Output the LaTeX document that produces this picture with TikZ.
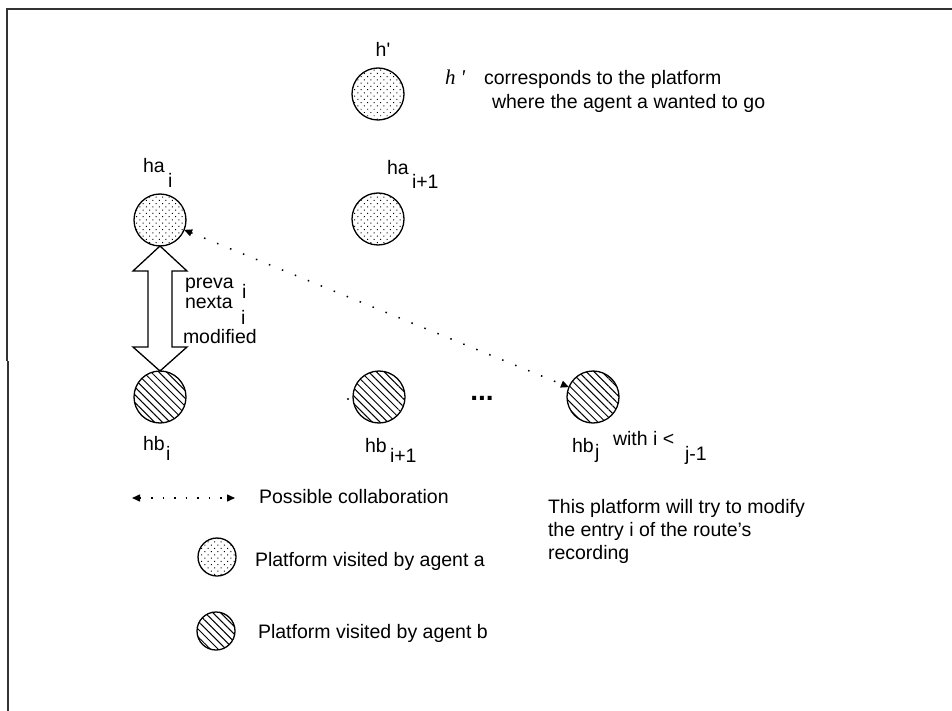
\documentclass[tikz,border=0pt]{standalone}
\usepackage{fontspec}
\setmainfont{Liberation Sans}
\newfontfamily\serifface{Liberation Serif}
\usetikzlibrary{arrows.meta,patterns.meta,calc}
\begin{document}
\begin{tikzpicture}[x=1pt,y=-1pt,
  every node/.style={inner sep=0pt, outer sep=0pt},
  txt/.style={font=\fontsize{19.5}{23}\selectfont, anchor=base west},
  platA/.style={circle, draw, line width=1.3pt, minimum size=52pt,
    pattern={Dots[radius=0.7pt,distance=4.6pt,angle=45]}},
  platB/.style={circle, draw, line width=1.3pt, minimum size=52pt,
    pattern={Lines[angle=-45,distance=5.5pt,line width=1pt]}},
  collab/.style={line width=1.5pt, dash pattern=on 1.5pt off 12.5pt,
    {Triangle[length=8pt,width=7pt]}-{Triangle[length=8pt,width=7pt]}},
  legcollab/.style={line width=1.5pt, dash pattern=on 1.5pt off 10pt,
    {Triangle[length=8pt,width=7pt]}-{Triangle[length=8pt,width=7pt]}},
  frame/.style={line width=1.4pt, draw=black!80},
  hollow/.style={draw, line width=1.3pt, fill=white, line join=miter},
]
\useasboundingbox (0,0) rectangle (952,711);

% page frame
\draw[frame] (952,9) -- (7,9) -- (7,361);
\draw[frame] (8,361) -- (8,711);

% platforms
\node[platA] (hp)   at (378,94)  {};
\node[platA] (hai)  at (160,220) {};
\node[platA] (hai1) at (378,219) {};
\node[platB] (hbi)  at (160,397) {};
\node[platB] (hbi1) at (379,397) {};
\node[platB] (hbj)  at (593,397) {};
\fill (348,399) circle (1.2);
\node[font=\bfseries\fontsize{28}{30}\selectfont] (dots) at (482,398) {...};

% labels of the platforms
\node[txt, anchor=base] (lhp) at (383,57) {h\textquotesingle};
\node[txt] (lhai)  at (143,173) {ha};
\node[txt] (lhaii) at (168,188) {i};
\node[txt] (lhai1) at (387,175) {ha};
\node[txt] (lhai1i) at (412,189) {i+1};
\node[txt] (lhbi)  at (143,450) {hb};
\node[txt] (lhbii) at (166,460) {i};
\node[txt] (lhbi1) at (365,452) {hb};
\node[txt] (lhbi1i) at (390,462) {i+1};
\node[txt] (lhbj)  at (572,452) {hb};
\node[txt] (lhbjj) at (595,458) {j};
\node[txt] (lwith) at (613,445) {with i <};
\node[txt] (lwithj) at (685,460) {j-1};

% note on h'
\node[txt, font=\serifface\itshape\fontsize{21}{25}\selectfont] (hit) at (445,85) {h\hspace{5pt}\textquotesingle};
\node[txt] (note1) at (484,85) {corresponds to the platform};
\node[txt] (note2) at (492,109) {where the agent a wanted to go};

% hollow double arrow between ha_i and hb_i
\draw[hollow] (hai.south) -- ++(27,25) -- ++(-15,0) |- ($(hbi.north)+(12,-24)$)
  -- ++(15,0) -- (hbi.north) -- ++(-27,-24) -- ++(15,0)
  |- ($(hai.south)+(-12,25)$) -- ++(-15,0) -- cycle;
\node[txt] (preva) at (185,288) {preva};
\node[txt] (prevai) at (242,298) {i};
\node[txt] (nexta) at (185,308) {nexta};
\node[txt] (nextai) at (241,324) {i};
\node[txt] (modif) at (183,343) {modified};

% possible collaboration
\draw[collab] (hai) -- (hbj);

% note on hb_j
\node[txt] (r1) at (548,513) {This platform will try to modify};
\node[txt] (r2) at (548,536) {the entry i of the route's};
\node[txt] (r3) at (548,559) {recording};

% legend
\coordinate (la) at (132,498);
\coordinate (lb) at (235,498);
\draw[legcollab] (la) -- (lb);
\node[txt] (lt1) at (259,503) {Possible collaboration};
\node[platA, minimum size=38pt] (lega) at (217,557) {};
\node[txt] (lt2) at (255,566) {Platform visited by agent a};
\node[platB, minimum size=38pt] (legb) at (216,631) {};
\node[txt] (lt3) at (258,638) {Platform visited by agent b};
\end{tikzpicture}
\end{document}
